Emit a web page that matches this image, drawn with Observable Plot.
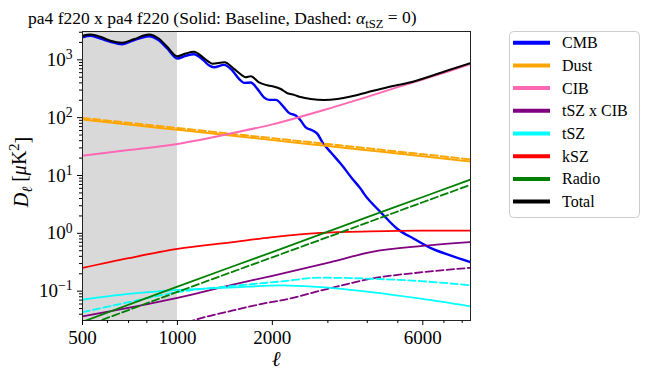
<!DOCTYPE html>
<html><head><meta charset="utf-8">
<script src="https://cdn.jsdelivr.net/npm/d3@7"></script>
<script src="https://cdn.jsdelivr.net/npm/@observablehq/plot@0.6"></script>
<style>
html,body{margin:0;padding:0;background:#fff;}
#chart{width:648px;height:378px;position:relative;overflow:hidden;}
</style></head><body><div id="chart"></div>
<script>
const FONT = "'Liberation Serif', 'DejaVu Serif', serif";

// ---- data ----
const cmbEll = [500,530,570,613,668,727,811,873,928,999,1061,1128,1200,1258,1306,1404,1494,1568,1626,1708,1793,1881,1952,2050,2178,2259,2373,2460,2552,2681,2780,2883,3064,3296,3590,3814,3908,4416,4988,5636,6366,7370,8525];
const cmbVal = [2460,2600,2340,2050,1860,2180,2560,2180,1570,1052,1172,1250,1024,807,745,819,653,469,400,405,315,225,203,203,151,121,109,89,68,60,52.5,37.5,25.2,15.9,8.73,5.86,4.81,2.31,1.19,0.80,0.554,0.411,0.315];

const totalEll = [500,530,570,613,668,727,811,873,928,999,1061,1128,1200,1258,1291,1411,1511,1607,1646,1708,1814,1905,2002,2127,2233,2344,2460,2648,2917,3218,3547,4007,4638,5498,7188,8525];
const totalVal = [2600,2741,2500,2133,1968,2270,2741,2333,1678,1154,1284,1375,1127,923,853,908,698,535,500,520,409,369,349,313,264,248,227,211,203,211,232,275,336,409,653,881];

const dustEll = [500,700,1000,1500,2000,3000,4000,6000,8500];
const dustVal = [92.7,76,61.8,48.7,40.9,32.3,27.3,21.5,17.4];
const dustDashVal = [99,81.5,66.3,52.3,44.2,35,29.6,23.3,19];

const cibEll = [500,700,1000,1500,2000,2430,3000,4000,5000,6000,7000,8500];
const cibVal = [22.1,27.5,35.2,54.2,76.6,101.6,142,229,338,458,595,846];

const tszCibEll = [500,1000,1500,2000,3064,4104,6000,8525];
const tszCibVal = [0.0366,0.0762,0.13,0.184,0.318,0.473,0.605,0.705];
const tszCibDashEll = [1000,1142,1500,1976,2127,3000,4104,6000,8525];
const tszCibDashVal = [0.025,0.032,0.0464,0.0645,0.069,0.110,0.164,0.213,0.254];

const tszEll = [500,700,1000,1500,2127,2849,4104,5913,8525];
const tszVal = [0.071,0.0894,0.105,0.116,0.1256,0.117,0.096,0.074,0.0543];
const tszDashVal = [0.0433,0.0645,0.096,0.123,0.147,0.171,0.164,0.149,0.126];

const kszEll = [500,700,1000,1500,1976,2849,4104,5913,8525];
const kszVal = [0.252,0.372,0.537,0.705,0.853,1.016,1.08,1.11,1.11];

const radioEll = [500,1000,2000,4000,6000,8500];
const radioVal = [0.0295,0.12,0.475,1.9,4.25,8.5];
const radioDashVal = [0.0238,0.097,0.385,1.53,3.45,6.9];

const seriesNames = ["CMB","Dust","CIB","tSZ x CIB","tSZ","kSZ","Radio","Total"];
const seriesColors = ["#0000ff","#ffa500","#ff69b4","#800080","#00ffff","#ff0000","#008000","#000000"];

const xDomain = [500, 8500];
const yDomain = [0.0311, 3090];
const xMajorTicks = [500, 1000, 2000, 6000];
const xMinorTicks = [600,700,800,900,3000,4000,5000,7000,8000];
const yMajorTicks = [0.1, 1, 10, 100, 1000];
const yTickExponents = ["\u22121","0","1","2","3"];
const yMinorTicks = [];
for (const base of [0.01,0.1,1,10,100,1000]) for (let k=2;k<=9;k++){const v=+(k*base).toPrecision(3); if(v>=yDomain[0]&&v<=yDomain[1]) yMinorTicks.push(v);}
const shadedRange = [{x1: 500, x2: 1000}];

const titleText = "pa4 f220 x pa4 f220 (Solid: Baseline, Dashed: ";

// ---- build tables ----
const rows = (ells, vals) => ells.map((e,i)=>({ell:e, value:vals[i]}));
const specs = [
  {d: rows(cmbEll,cmbVal), c:0, w:2.4},
  {d: rows(dustEll,dustVal), c:1, w:2},
  {d: rows(dustEll,dustDashVal), c:1, w:2, dash:"7.4,3.2"},
  {d: rows(cibEll,cibVal), c:2, w:2},
  {d: rows(tszCibEll,tszCibVal), c:3, w:1.8},
  {d: rows(tszCibDashEll,tszCibDashVal), c:3, w:1.8, dash:"7.4,3.2"},
  {d: rows(tszEll,tszVal), c:4, w:1.8},
  {d: rows(tszEll,tszDashVal), c:4, w:1.8, dash:"7.4,3.2"},
  {d: rows(kszEll,kszVal), c:5, w:1.8},
  {d: rows(radioEll,radioVal), c:6, w:1.8},
  {d: rows(radioEll,radioDashVal), c:6, w:1.8, dash:"7.4,3.2"},
  {d: rows(totalEll,totalVal), c:7, w:2}
];

const marks = [
  Plot.rect(shadedRange, {x1:"x1", x2:"x2", y1: () => yDomain[0], y2: () => yDomain[1], fill:"#d9d9d9"}),
  ...specs.map(s => Plot.line(s.d, {x:"ell", y:"value", stroke: seriesColors[s.c], strokeWidth: s.w,
      strokeDasharray: s.dash, curve:"monotone-x", clip:true, strokeLinejoin:"round"})),
  Plot.frame({stroke:"#222", strokeWidth:1}),
  Plot.axisX({ticks: xMajorTicks, tickFormat: d => String(d), tickSize:5, tickPadding:5, label:null, fontSize:19}),
  Plot.axisX({ticks: xMinorTicks, tickFormat: () => "", tickSize:3, label:null}),
  Plot.axisY({ticks: yMajorTicks, tickFormat: d => "10^" + yTickExponents[yMajorTicks.indexOf(d)], tickSize:5, tickPadding:5, label:null, fontSize:19}),
  Plot.axisY({ticks: yMinorTicks, tickFormat: () => "", tickSize:3, label:null})
];

const svg = Plot.plot({
  width: 648, height: 378,
  marginLeft: 82, marginRight: 178, marginTop: 31, marginBottom: 58,
  x: {type:"log", domain: xDomain},
  y: {type:"log", domain: yDomain},
  style: {fontFamily: FONT, fontSize: "19px", color:"#000", background:"#fff"},
  marks
});
document.getElementById("chart").appendChild(svg);

const S = d3.select(svg);
// superscripts on y tick labels
S.selectAll('g[aria-label="y-axis tick label"] text').each(function(){
  const t = this.textContent; if (!t.includes("^")) return;
  const [b, e] = t.split("^");
  const el = d3.select(this); el.text("");
  el.append("tspan").text(b);
  el.append("tspan").attr("dy","-0.5em").attr("font-size","0.72em").text(e);
});

// title
const title = S.append("text").attr("x",28).attr("y",24).attr("font-size",17).attr("fill","#000")
  .attr("text-anchor","start").style("font-family",FONT);
title.append("tspan").text(titleText);
title.append("tspan").attr("font-style","italic").text("\u03b1");
title.append("tspan").attr("dy","0.3em").attr("font-size","0.72em").text("tSZ");
title.append("tspan").attr("dy","-0.3em").text(" = 0)");
const tw = title.node().getComputedTextLength();
if (tw > 0) title.attr("font-size", 17 * 389 / tw);

// y label
const yl = S.append("text").attr("transform","translate(27.5,172) rotate(-90)").attr("text-anchor","middle")
  .attr("font-size",20).attr("fill","#000").style("font-family",FONT);
yl.append("tspan").attr("font-style","italic").text("D");
yl.append("tspan").attr("dy","0.3em").attr("font-size","0.72em").attr("font-style","italic").text("\u2113");
yl.append("tspan").attr("dy","-0.3em").text(" [");
yl.append("tspan").attr("font-style","italic").text("\u03bc");
yl.append("tspan").text("K");
yl.append("tspan").attr("dy","-0.5em").attr("font-size","0.72em").text("2");
yl.append("tspan").attr("dy","0.5em").text("]");

// x label
S.append("text").attr("x",276).attr("y",366).attr("text-anchor","middle").attr("font-size",21)
  .attr("font-style","italic").attr("fill","#000").style("font-family",FONT).text("\u2113");

// legend
const lg = S.append("g");
lg.append("rect").attr("x",509.5).attr("y",31.5).attr("width",130).attr("height",186).attr("rx",4)
  .attr("fill","#fff").attr("stroke","#cccccc");
seriesNames.forEach((n,i) => {
  const y = 42.7 + i*22.7;
  lg.append("line").attr("x1",513).attr("x2",550).attr("y1",y).attr("y2",y)
    .attr("stroke",seriesColors[i]).attr("stroke-width",4);
  lg.append("text").attr("x",562).attr("y",y+5.5).attr("font-size",16).attr("fill","#000")
    .attr("text-anchor","start").style("font-family",FONT).text(n);
});
</script></body></html>
